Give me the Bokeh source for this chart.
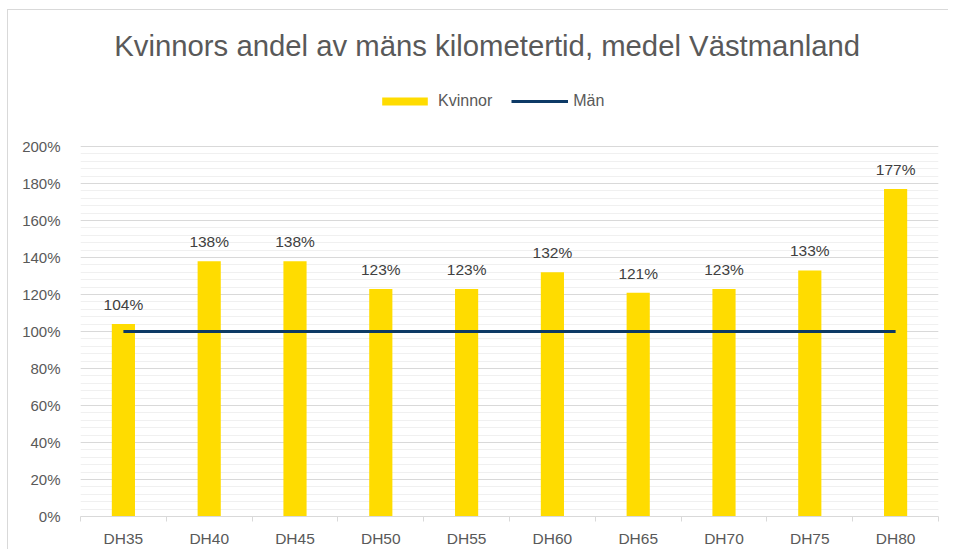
from bokeh.plotting import figure
from bokeh.models import (ColumnDataSource, Range1d, FixedTicker, NumeralTickFormatter,
                          Legend, LegendItem, Label, LabelSet)
from bokeh.core.properties import value
from bokeh.embed import file_html
from bokeh.resources import INLINE

categories = ["DH35", "DH40", "DH45", "DH50", "DH55", "DH60", "DH65", "DH70", "DH75", "DH80"]
kvinnor = [1.04, 1.38, 1.38, 1.23, 1.23, 1.32, 1.21, 1.23, 1.33, 1.77]
man = [1.0, 1.0, 1.0, 1.0, 1.0, 1.0, 1.0, 1.0, 1.0, 1.0]
kvinnor_labels = ["104%", "138%", "138%", "123%", "123%", "132%", "121%", "123%", "133%", "177%"]
y_major_ticks = [0.0, 0.2, 0.4, 0.6, 0.8, 1.0, 1.2, 1.4, 1.6, 1.8, 2.0]
y_minor_ticks = [i * 0.04 for i in range(51)]

FONT = "Liberation Sans"
GREY = "#595959"

xs = [i + 0.5 for i in range(len(categories))]
src = ColumnDataSource(dict(x=xs, k=kvinnor, m=man, lab=kvinnor_labels))

p = figure(width=941, height=540, output_backend="svg", toolbar_location=None,
           x_range=Range1d(0, len(categories)), y_range=Range1d(0, 2.735),
           min_border_left=72, min_border_right=11, min_border_top=0, min_border_bottom=34)
p.styles = {"border-left": "1px solid #D9D9D9", "border-top": "1px solid #D9D9D9",
            "margin-top": "9px", "margin-left": "7px"}
p.outline_line_color = None
p.background_fill_color = "white"
p.border_fill_color = "white"

bars = p.vbar(x="x", top="k", width=0.27, source=src, fill_color="#FFDC00", line_color=None)
line = p.line(x="x", y="m", source=src, line_color="#0D3A66", line_width=3)

labels = LabelSet(x="x", y="k", text="lab", source=src, text_align="center", text_baseline="bottom",
                  y_offset=11, text_font=value(FONT), text_font_size="15.5px", text_color="#404040")
p.add_layout(labels)

# grid
p.xgrid.grid_line_color = None
p.yaxis.ticker = FixedTicker(ticks=y_major_ticks, minor_ticks=y_minor_ticks)
p.ygrid.grid_line_color = "#D9D9D9"
p.ygrid.grid_line_width = 1
p.ygrid.minor_grid_line_color = "#F0F0F0"
p.ygrid.minor_grid_line_width = 1

# y axis
p.yaxis.formatter = NumeralTickFormatter(format="0%")
p.yaxis.axis_line_color = None
p.yaxis.major_tick_line_color = None
p.yaxis.minor_tick_line_color = None
p.yaxis.major_label_standoff = 14
p.yaxis.major_label_text_font = FONT
p.yaxis.major_label_text_font_size = "15px"
p.yaxis.major_label_text_color = GREY

# x axis
p.xaxis.ticker = FixedTicker(ticks=xs, minor_ticks=list(range(len(categories) + 1)))
p.xaxis.major_label_overrides = {x: c for x, c in zip(xs, categories)}
p.xaxis.axis_line_color = "#D9D9D9"
p.xaxis.major_tick_line_color = None
p.xaxis.minor_tick_line_color = "#D9D9D9"
p.xaxis.minor_tick_out = 5
p.xaxis.minor_tick_in = 0
p.xaxis.major_label_standoff = 7
p.xaxis.major_label_text_font = FONT
p.xaxis.major_label_text_font_size = "15.5px"
p.xaxis.major_label_text_color = GREY

# title
title = Label(x=4.74, y=2.546, text="Kvinnors andel av mäns kilometertid, medel Västmanland",
              text_align="center", text_baseline="middle", text_font=FONT,
              text_font_size="29.3px", text_color=GREY)
p.add_layout(title)

legend = Legend(items=[LegendItem(label="Kvinnor", renderers=[bars]),
                       LegendItem(label="Män", renderers=[line])],
                orientation="horizontal", location=(296, 406),
                glyph_width=57, glyph_height=10, label_standoff=5, spacing=19,
                padding=0, margin=0, border_line_color=None, background_fill_alpha=0,
                label_text_font=FONT, label_text_font_size="16px", label_text_color=GREY,
                label_height=16)
p.add_layout(legend)

open("out.html", "w").write(file_html(p, INLINE))
